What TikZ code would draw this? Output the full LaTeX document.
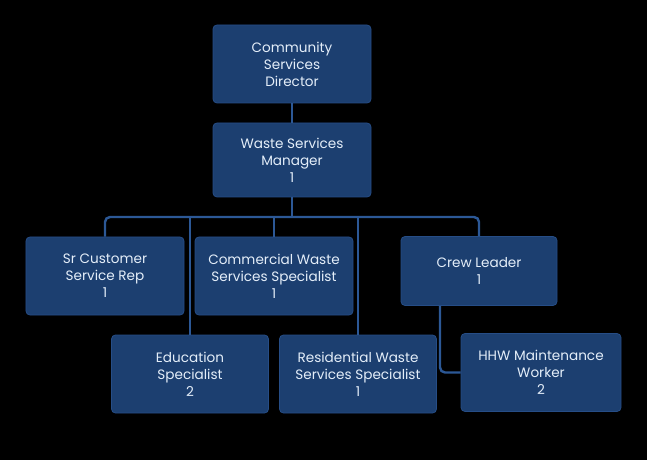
\documentclass[tikz,border=0pt]{standalone}
\usepackage{fontspec}
\setmainfont{Poppins}
\definecolor{boxfill}{HTML}{1C3F70}
\definecolor{boxedge}{HTML}{264D86}
\definecolor{conncol}{HTML}{2C5896}
\definecolor{txtcol}{HTML}{E4EEF9}
\begin{document}
\begin{tikzpicture}[x=1bp,y=-1bp,
  box/.style={draw=boxedge, line width=0.8bp, fill=boxfill, rounded corners=4bp,
    text=txtcol, align=center, inner sep=0pt,
    font=\fontsize{13.6bp}{17bp}\selectfont},
  conn/.style={draw=conncol, line width=2.4bp}]
\fill[black] (0,0) rectangle (647,460);
\useasboundingbox (0,0) rectangle (647,460);
\node[box, minimum width=158bp, minimum height=78bp] (dir) at (292,64) {Community\\Services\\Director};
\node[box, minimum width=158bp, minimum height=74bp] (mgr) at (292,160) {Waste Services\\Manager\\1};
\node[box, minimum width=158bp, minimum height=78bp] (sr) at (105,276) {Sr Customer\\Service Rep\\1};
\node[box, minimum width=158bp, minimum height=78bp] (com) at (274,276) {Commercial Waste\\Services Specialist\\1};
\node[box, minimum width=156bp, minimum height=69bp] (crew) at (479,271) {Crew Leader\\1};
\node[box, minimum width=157bp, minimum height=78bp] (edu) at (190,374) {Education\\Specialist\\2};
\node[box, minimum width=157bp, minimum height=78bp] (res) at (358,374) {Residential Waste\\Services Specialist\\1};
\node[box, minimum width=160bp, minimum height=78bp] (hhw) at (541,372.5) {HHW Maintenance\\Worker\\2};
\coordinate (bus) at (292,217);
\draw[conn] (dir.south) -- (mgr.north);
\draw[conn] (mgr.south) -- (bus);
\draw[conn, rounded corners=5bp] (sr.north) |- (bus) -| (crew.north);
\draw[conn] (com.north) -- (com.north |- bus);
\draw[conn] (edu.north) -- (edu.north |- bus);
\draw[conn] (res.north) -- (res.north |- bus);
\draw[conn, rounded corners=5bp] ([xshift=-39bp]crew.south) |- (hhw.west);
\end{tikzpicture}
\end{document}
